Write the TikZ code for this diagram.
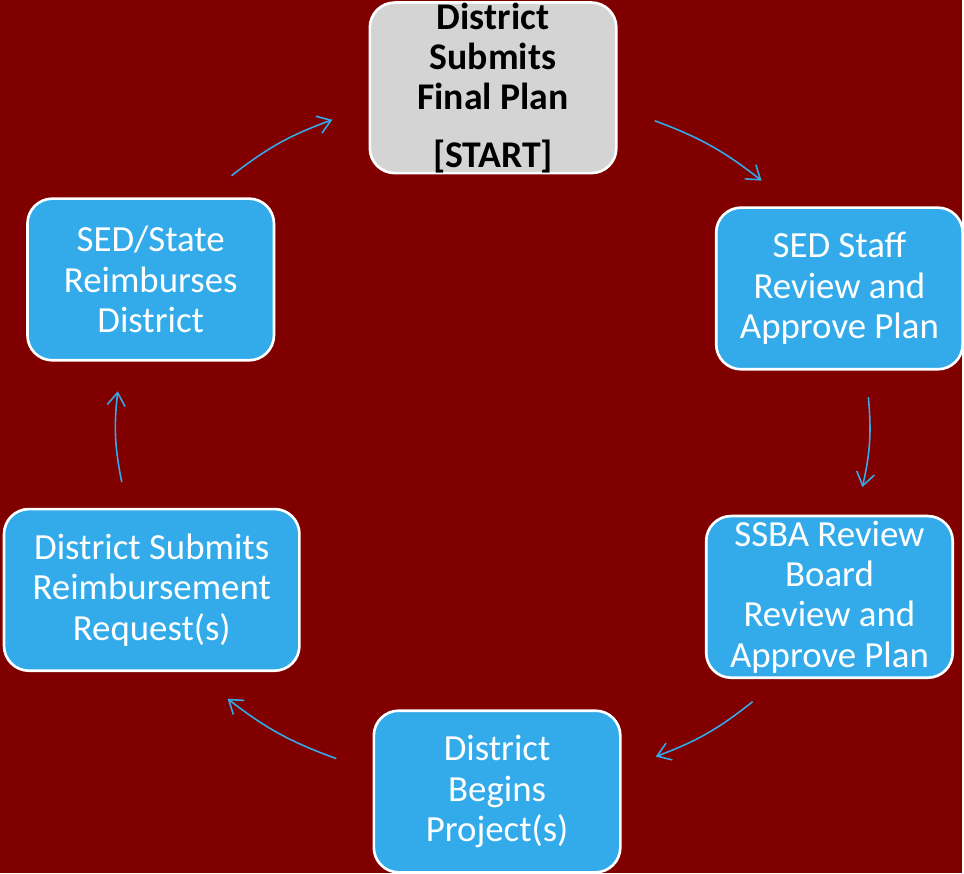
\documentclass[tikz,border=0pt]{standalone}
\usepackage{fontspec}
\setmainfont{Carlito}
\usetikzlibrary{arrows.meta}
\definecolor{bgred}{HTML}{800000}
\definecolor{boxblue}{HTML}{33ABEA}
\definecolor{startgray}{HTML}{D4D4D4}
\begin{document}
\begin{tikzpicture}[x=0.02cm,y=-0.02cm,
  stepbox/.style={draw=white, line width=1.5pt, rounded corners=0.5cm, fill=boxblue,
    text=white, align=center, inner sep=0pt, minimum width=4.94cm, minimum height=3.24cm,
    font=\fontsize{21}{23}\selectfont},
  startbox/.style={stepbox, fill=startgray, text=black, font=\fontsize{21.5}{23}\selectfont\bfseries},
  flow/.style={draw=boxblue, line width=0.9pt, -{Straight Barb[length=2.6mm, width=3.6mm]}}]
\fill [bgred] (0,0) rectangle (964,875);
\node (start) [startbox] at (494,88) {District\\Submits\\Final Plan\\[10pt][START]};
\node (staff) [stepbox] at (841,289) {SED Staff\\Review and\\Approve Plan};
\node (ssba) [stepbox] at (831,598) {SSBA Review\\Board\\Review and\\Approve Plan};
\node (begins) [stepbox] at (498,793) {District\\Begins\\Project(s)};
\node (request) [stepbox, minimum width=5.92cm] at (152,591) {District Submits\\Reimbursement\\Request(s)};
\node (reimburse) [stepbox] at (151,280) {SED/State\\Reimburses\\District};
% arrows round the cycle
\coordinate (a1) at (232,176); \coordinate (b1) at (333,120);
\coordinate (a2) at (656,121); \coordinate (b2) at (763,181);
\coordinate (a3) at (870,398); \coordinate (b3) at (864,488);
\coordinate (a4) at (754,703); \coordinate (b4) at (657,758);
\coordinate (a5) at (337,760); \coordinate (b5) at (228,700);
\coordinate (a6) at (122,483); \coordinate (b6) at (118,392);
\foreach \i in {1,...,6}
  \draw [flow] (a\i) to [bend left=9] (b\i);
\end{tikzpicture}
\end{document}
